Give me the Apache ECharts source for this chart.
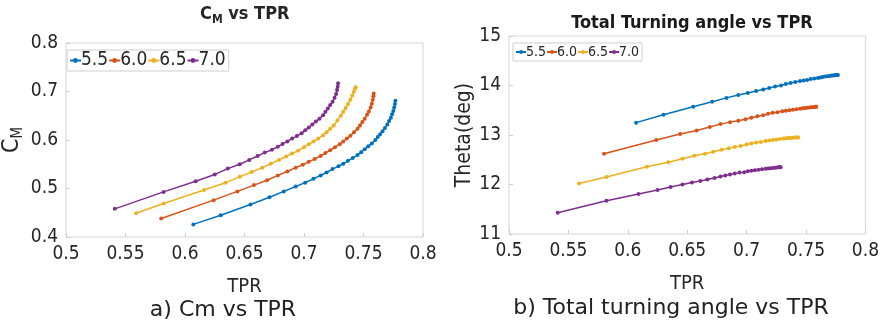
<!DOCTYPE html>
<html>
<head>
<meta charset="utf-8">
<script src="https://cdn.jsdelivr.net/npm/echarts@6/dist/echarts.min.js"></script>
<style>
  html, body { margin: 0; padding: 0; background: #fff; }
  #chart { width: 882px; height: 324px; }
</style>
</head>
<body>
<div id="chart"></div>
<script>
// Blade speed cases shown in the legends
const caseNames = ['5.5', '6.0', '6.5', '7.0'];
const caseColors = ['#0072BD', '#D95319', '#EDB120', '#7E2F8E'];

// Tick values
const tprTicks = [0.5, 0.55, 0.6, 0.65, 0.7, 0.75, 0.8];
const cmTicks = [0.4, 0.5, 0.6, 0.7, 0.8];
const thetaTicks = [11, 12, 13, 14, 15];

// Case 5.5
const tpr55 = [0.607, 0.630, 0.655, 0.671, 0.683, 0.693, 0.701, 0.708, 0.714, 0.719, 0.724, 0.729, 0.733, 0.737, 0.741, 0.745, 0.748, 0.751, 0.754, 0.757, 0.760, 0.762, 0.764, 0.766, 0.768, 0.770, 0.7715, 0.773, 0.774, 0.775, 0.7758, 0.7764, 0.7768];
const cm55 = [0.426, 0.445, 0.467, 0.482, 0.494, 0.504, 0.512, 0.520, 0.527, 0.533, 0.540, 0.546, 0.551, 0.557, 0.563, 0.569, 0.575, 0.581, 0.587, 0.593, 0.600, 0.606, 0.612, 0.618, 0.625, 0.632, 0.639, 0.646, 0.653, 0.660, 0.667, 0.674, 0.681];
const theta55 = [13.25, 13.41, 13.57, 13.67, 13.75, 13.81, 13.85, 13.89, 13.92, 13.95, 13.98, 14.00, 14.03, 14.05, 14.07, 14.09, 14.10, 14.11, 14.13, 14.14, 14.15, 14.16, 14.17, 14.18, 14.185, 14.19, 14.20, 14.20, 14.205, 14.21, 14.21, 14.21, 14.21];

// Case 6.0
const tpr60 = [0.580, 0.624, 0.644, 0.658, 0.669, 0.678, 0.686, 0.693, 0.699, 0.704, 0.709, 0.714, 0.718, 0.722, 0.726, 0.730, 0.733, 0.736, 0.739, 0.742, 0.745, 0.747, 0.749, 0.751, 0.753, 0.7545, 0.756, 0.757, 0.7578, 0.7583, 0.7586];
const cm60 = [0.438, 0.476, 0.494, 0.507, 0.517, 0.527, 0.535, 0.543, 0.549, 0.555, 0.561, 0.567, 0.573, 0.579, 0.585, 0.591, 0.597, 0.603, 0.609, 0.616, 0.623, 0.630, 0.637, 0.644, 0.652, 0.659, 0.667, 0.675, 0.683, 0.690, 0.696];
const theta60 = [12.62, 12.90, 13.02, 13.09, 13.16, 13.22, 13.26, 13.29, 13.32, 13.35, 13.38, 13.40, 13.43, 13.45, 13.46, 13.48, 13.49, 13.50, 13.51, 13.52, 13.53, 13.54, 13.545, 13.55, 13.555, 13.56, 13.56, 13.565, 13.57, 13.57, 13.57];

// Case 6.5
const tpr65 = [0.559, 0.582, 0.616, 0.634, 0.646, 0.656, 0.665, 0.672, 0.679, 0.685, 0.690, 0.695, 0.700, 0.704, 0.708, 0.712, 0.716, 0.719, 0.722, 0.725, 0.728, 0.731, 0.733, 0.735, 0.737, 0.739, 0.7405, 0.7418, 0.7428, 0.7434];
const cm65 = [0.449, 0.469, 0.497, 0.512, 0.524, 0.534, 0.543, 0.551, 0.559, 0.566, 0.572, 0.578, 0.585, 0.591, 0.597, 0.603, 0.610, 0.616, 0.623, 0.630, 0.640, 0.650, 0.658, 0.666, 0.674, 0.683, 0.691, 0.699, 0.705, 0.709];
const theta65 = [12.02, 12.15, 12.36, 12.45, 12.52, 12.58, 12.62, 12.66, 12.70, 12.73, 12.76, 12.78, 12.81, 12.83, 12.85, 12.86, 12.88, 12.89, 12.90, 12.91, 12.92, 12.93, 12.935, 12.94, 12.94, 12.945, 12.95, 12.95, 12.95, 12.95];

// Case 7.0
const tpr70 = [0.541, 0.582, 0.609, 0.625, 0.636, 0.646, 0.654, 0.661, 0.667, 0.673, 0.678, 0.682, 0.686, 0.690, 0.694, 0.698, 0.701, 0.704, 0.707, 0.710, 0.713, 0.716, 0.718, 0.720, 0.722, 0.724, 0.7257, 0.7270, 0.7278, 0.7283, 0.7286];
const cm70 = [0.458, 0.493, 0.515, 0.529, 0.541, 0.550, 0.559, 0.567, 0.574, 0.580, 0.586, 0.592, 0.597, 0.603, 0.608, 0.614, 0.620, 0.626, 0.632, 0.638, 0.644, 0.651, 0.658, 0.665, 0.672, 0.679, 0.687, 0.695, 0.703, 0.710, 0.717];
const theta70 = [11.43, 11.67, 11.81, 11.89, 11.95, 12.00, 12.04, 12.07, 12.10, 12.13, 12.16, 12.18, 12.20, 12.22, 12.24, 12.25, 12.27, 12.28, 12.29, 12.30, 12.31, 12.32, 12.325, 12.33, 12.335, 12.34, 12.345, 12.35, 12.35, 12.35, 12.35];

const tprSets = [tpr55, tpr60, tpr65, tpr70];
const cmSets = [cm55, cm60, cm65, cm70];
const thetaSets = [theta55, theta60, theta65, theta70];

const FONT = '"Liberation Sans Narrow", "DejaVu Sans Condensed", "Liberation Sans", sans-serif';
const TEXT = '#262626';

const zip = (xs, ys) => xs.map((x, i) => [x, ys[i]]);

function axisBase(extra) {
  return Object.assign({
    type: 'value',
    axisLine: { show: false },
    axisTick: { show: true, inside: true, length: 4, lineStyle: { color: '#cfcfcf' } },
    splitLine: { show: false },
    axisLabel: { color: TEXT, fontSize: 19, fontFamily: FONT },
    nameTextStyle: { color: TEXT, fontSize: 20, fontFamily: FONT }
  }, extra);
}

const series = [];
caseNames.forEach((name, i) => {
  const common = {
    name: name,
    type: 'line',
    symbol: 'circle',
    symbolSize: 4,
    showSymbol: true,
    color: caseColors[i],
    lineStyle: { width: 1.5 },
    emphasis: { disabled: true }
  };
  series.push(Object.assign({}, common, { xAxisIndex: 0, yAxisIndex: 0, data: zip(tprSets[i], cmSets[i]) }));
  series.push(Object.assign({}, common, { xAxisIndex: 1, yAxisIndex: 1, data: zip(tprSets[i], thetaSets[i]) }));
});

const chart = echarts.init(document.getElementById('chart'), null, { renderer: 'canvas' });
chart.setOption({
  animation: false,
  backgroundColor: '#fff',
  grid: [
    { left: 63, right: 459, top: 43, bottom: 87, show: true, borderColor: '#d6d6d6', borderWidth: 1 },
    { left: 509, right: 16, top: 36, bottom: 90, show: true, borderColor: '#d6d6d6', borderWidth: 1 }
  ],
  xAxis: [
    axisBase({ gridIndex: 0, min: tprTicks[0], max: tprTicks[tprTicks.length - 1], interval: 0.05,
      name: 'TPR', nameLocation: 'middle', nameGap: 40 }),
    axisBase({ gridIndex: 1, min: tprTicks[0], max: tprTicks[tprTicks.length - 1], interval: 0.05,
      name: 'TPR', nameLocation: 'middle', nameGap: 40 })
  ],
  yAxis: [
    axisBase({ gridIndex: 0, min: cmTicks[0], max: cmTicks[cmTicks.length - 1], interval: 0.1,
      name: '{a|C}{s|M}', nameLocation: 'middle', nameGap: 40,
      nameTextStyle: { color: TEXT, fontFamily: FONT,
        rich: { a: { fontSize: 23, color: TEXT, fontFamily: FONT },
                s: { fontSize: 15, color: TEXT, fontFamily: FONT, padding: [12, 0, 0, 0] } } } }),
    axisBase({ gridIndex: 1, min: thetaTicks[0], max: thetaTicks[thetaTicks.length - 1], interval: 1,
      name: 'Theta(deg)', nameLocation: 'middle', nameGap: 28,
      nameTextStyle: { color: TEXT, fontSize: 21, fontFamily: FONT } })
  ],
  legend: [
    {
      data: caseNames, left: 67, top: 50, orient: 'horizontal',
      itemWidth: 11, itemHeight: 6, itemGap: 0, padding: [1, 3, 1, 2],
      borderColor: '#cfcfcf', borderWidth: 1, backgroundColor: '#fff',
      textStyle: { color: TEXT, fontSize: 19, fontFamily: FONT, padding: [0, 0, 0, -5] },
      selectedMode: false
    },
    {
      data: caseNames, left: 513, top: 43, orient: 'horizontal',
      itemWidth: 10, itemHeight: 5, itemGap: 0, padding: [2, 3, 2, 2],
      borderColor: '#cfcfcf', borderWidth: 1, backgroundColor: '#fff',
      textStyle: { color: TEXT, fontSize: 14, fontFamily: FONT, padding: [0, 0, 0, -5] },
      selectedMode: false
    }
  ],
  graphic: [
    { type: 'text', left: 200, top: 5,
      style: { text: '{a|C}{s|M}{a| vs TPR}', fill: TEXT,
        rich: { a: { fontSize: 18, fontWeight: 'bold', fontFamily: FONT, fill: TEXT },
                s: { fontSize: 12, fontWeight: 'bold', fontFamily: FONT, fill: TEXT, padding: [12, 0, 0, 0] } } } },
    { type: 'text', x: 692, y: 23,
      style: { text: 'Total Turning angle vs TPR', align: 'center', verticalAlign: 'middle',
        fontSize: 18, fontWeight: 'bold', fontFamily: FONT, fill: '#1a1a1a' } },
    { type: 'text', x: 223, y: 310,
      style: { text: 'a) Cm vs TPR', align: 'center', verticalAlign: 'middle',
        fontSize: 22, fontFamily: '"DejaVu Sans", sans-serif', fill: '#222' } },
    { type: 'text', x: 671, y: 308,
      style: { text: 'b) Total turning angle vs TPR', align: 'center', verticalAlign: 'middle',
        fontSize: 22, fontFamily: '"DejaVu Sans", sans-serif', fill: '#222' } }
  ],
  series: series
});
</script>
</body>
</html>
